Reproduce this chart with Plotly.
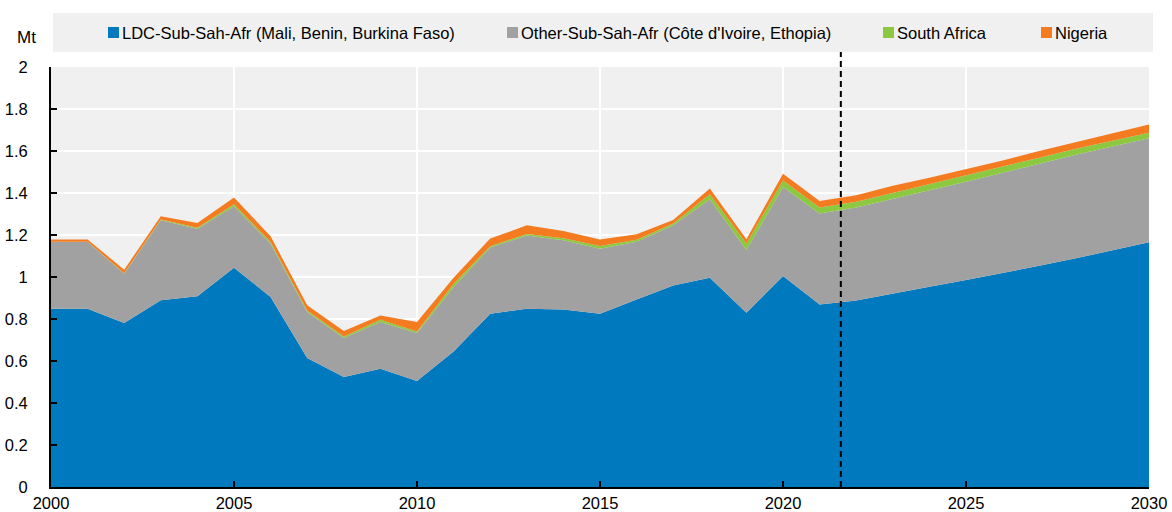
import plotly.graph_objects as go

# Years and stacked layers (Mt)
years = list(range(2000, 2031))

ldc = [0.849, 0.849, 0.781, 0.889, 0.908, 1.044, 0.905, 0.614, 0.524, 0.563,
       0.505, 0.645, 0.825, 0.849, 0.845, 0.825, 0.893, 0.960, 0.997, 0.830,
       1.005, 0.869, 0.888, 0.922, 0.954, 0.986, 1.019, 1.053, 1.089, 1.126,
       1.165]
other = [0.318, 0.318, 0.235, 0.381, 0.322, 0.293, 0.254, 0.219, 0.186, 0.223,
         0.228, 0.307, 0.315, 0.349, 0.330, 0.310, 0.275, 0.287, 0.373, 0.298,
         0.424, 0.433, 0.443, 0.451, 0.459, 0.467, 0.478, 0.487, 0.493, 0.496,
         0.496]
south_africa = [0.001, 0.001, 0.002, 0.004, 0.005, 0.009, 0.008, 0.008, 0.007, 0.011,
                0.008, 0.016, 0.007, 0.007, 0.010, 0.013, 0.009, 0.008, 0.024, 0.032,
                0.031, 0.029, 0.027, 0.027, 0.027, 0.028, 0.028, 0.028, 0.029, 0.028,
                0.026]
nigeria = [0.010, 0.010, 0.017, 0.015, 0.022, 0.032, 0.027, 0.024, 0.026, 0.020,
           0.045, 0.029, 0.036, 0.041, 0.034, 0.030, 0.026, 0.016, 0.027, 0.020,
           0.032, 0.031, 0.031, 0.034, 0.033, 0.032, 0.030, 0.032, 0.031, 0.034,
           0.039]

names = ["LDC-Sub-Sah-Afr (Mali, Benin, Burkina Faso)",
         "Other-Sub-Sah-Afr (Côte d'Ivoire, Ethopia)",
         "South Africa",
         "Nigeria"]
colors = ["#0179BF", "#A1A1A1", "#8CC840", "#F47B20"]
series = [ldc, other, south_africa, nigeria]

projection_start = 2021.58

FONT = "Liberation Sans Narrow, Arial Narrow, Liberation Sans, Arial, sans-serif"

fig = go.Figure()
for name, color, vals in zip(names, colors, series):
    fig.add_trace(go.Scatter(
        x=years, y=vals, name=name, mode="lines",
        stackgroup="one", line=dict(width=0, color=color),
        fillcolor=color, showlegend=False,
    ))

# plot area in pixels: x 51..1149, y 67..487
L, R, T, B = 51, 23, 67, 25
W, H = 1172 - L - R, 512 - T - B


def px_x(px):
    return (px - L) / W


def px_y(py):
    return (512 - B - py) / H


# legend box and entries (manual, to match the compact layout)
fig.add_shape(type="rect", xref="paper", yref="paper",
              x0=px_x(53), x1=px_x(1153), y0=px_y(52), y1=px_y(13),
              fillcolor="#F0F0F0", line=dict(width=0), layer="below")
marker_x = [108, 507, 883, 1041]
for mx, name, color in zip(marker_x, names, colors):
    fig.add_shape(type="rect", xref="paper", yref="paper",
                  x0=px_x(mx), x1=px_x(mx + 11), y0=px_y(38), y1=px_y(27),
                  fillcolor=color, line=dict(width=0))
    fig.add_annotation(text=name, xref="paper", yref="paper",
                       x=px_x(mx + 12), y=px_y(32.5), xanchor="left", yanchor="middle",
                       showarrow=False, font=dict(size=16.5, color="#000000", family=FONT))

fig.add_annotation(text="Mt", xref="paper", yref="paper",
                   x=px_x(26), y=px_y(37), xanchor="center", yanchor="middle",
                   showarrow=False, font=dict(size=17, color="#000000", family=FONT))

fig.add_shape(type="line", xref="x", yref="paper",
              x0=projection_start, x1=projection_start, y0=0, y1=px_y(52),
              line=dict(color="#000000", width=2, dash="6px,4px"))

fig.update_layout(
    width=1172, height=512,
    margin=dict(l=L, r=R, t=T, b=B),
    paper_bgcolor="#FFFFFF",
    plot_bgcolor="#F0F0F0",
    font=dict(family=FONT, size=16.5, color="#000000"),
    showlegend=False,
    xaxis=dict(
        range=[2000, 2030], tickmode="array", tickvals=[2000, 2005, 2010, 2015, 2020, 2025, 2030],
        ticks="inside", ticklen=6, tickwidth=2, tickcolor="#000000",
        showline=True, linecolor="#000000", linewidth=2,
        showgrid=True, gridcolor="#FFFFFF", gridwidth=2, zeroline=False,
        tickfont=dict(size=16.5), ticklabelstandoff=0, automargin=False,
    ),
    yaxis=dict(
        range=[0, 2], dtick=0.2, tick0=0,
        ticks="inside", ticklen=6, tickwidth=2, tickcolor="#000000",
        showline=True, linecolor="#000000", linewidth=2,
        showgrid=True, gridcolor="#FFFFFF", gridwidth=2, zeroline=False,
        tickfont=dict(size=16.5), ticklabelstandoff=18, automargin=False,
    ),
)

fig.write_html("out.html", config={"displayModeBar": False},
               post_script="document.body.style.margin = '0';")
